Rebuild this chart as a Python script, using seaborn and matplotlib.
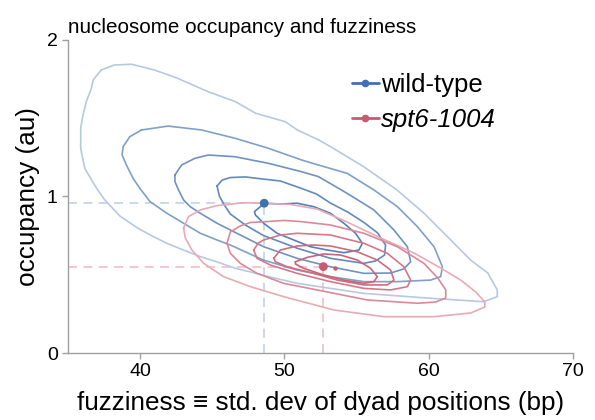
import numpy as np
import pandas as pd
import matplotlib
matplotlib.use("Agg")
import matplotlib.pyplot as plt
from matplotlib.lines import Line2D
import seaborn as sns

# density contour outlines, outermost level first
wt_lv1_x = [37.3, 38.2, 39.4, 41.0, 42.6, 44.7, 46.6, 48.0, 50.05, 50.9, 52.4, 53.2, 55.5, 57.8, 59.65,
            61.3, 62.9, 64.1, 64.75, 64.75, 63.8, 60.1, 55.5, 52.4, 50.9, 48.9, 47.6, 46.6, 45.3, 44.2,
            43.0, 41.85, 40.7, 39.8, 38.6, 37.55, 37.0, 36.16, 35.88, 35.88, 36.04, 36.27, 36.62, 36.74]
wt_lv1_y = [1.808, 1.84, 1.845, 1.808, 1.755, 1.670, 1.606, 1.532, 1.478, 1.425, 1.36, 1.318, 1.190, 1.042, 0.895,
            0.743, 0.594, 0.511, 0.403, 0.36, 0.328, 0.35, 0.381, 0.424, 0.445, 0.488, 0.519, 0.541, 0.583, 0.615,
            0.658, 0.701, 0.754, 0.80, 0.875, 0.978, 1.05, 1.18, 1.308, 1.436, 1.521, 1.606, 1.691, 1.744]

wt_lv2_x = [40.09, 41.94, 44.26, 46.58, 48.89, 51.20, 52.36, 54.35, 56.20, 57.83, 59.22, 60.37, 60.95, 60.83,
            60.14, 57.83, 55.51, 53.19, 50.88, 48.54, 46.25, 45.33, 44.17, 43.01, 41.85, 40.69, 39.98, 39.51,
            39.05, 38.75, 38.82, 39.28]
wt_lv2_y = [1.425, 1.450, 1.425, 1.372, 1.308, 1.233, 1.201, 1.148, 1.042, 0.935, 0.807, 0.679, 0.551, 0.488,
            0.466, 0.456, 0.456, 0.488, 0.530, 0.594, 0.690, 0.722, 0.765, 0.829, 0.893, 0.967, 1.052, 1.116,
            1.201, 1.265, 1.318, 1.382]

wt_lv3_x = [42.41, 42.87, 43.80, 44.72, 46.58, 48.89, 51.20, 52.36, 54.35, 56.20, 57.59, 58.52, 58.75, 58.26,
            57.36, 55.51, 53.19, 50.88, 48.56, 46.25, 45.33, 44.17, 43.47, 43.01, 42.66, 42.41]
wt_lv3_y = [1.137, 1.201, 1.244, 1.265, 1.254, 1.212, 1.158, 1.127, 1.020, 0.914, 0.786, 0.679, 0.583, 0.537,
            0.511, 0.509, 0.551, 0.605, 0.679, 0.786, 0.829, 0.893, 0.935, 0.978, 1.042, 1.095]

wt_lv4_x = [45.33, 45.69, 46.25, 47.29, 48.47, 49.72, 51.11, 52.22, 53.19, 54.38, 55.56, 56.46, 57.01, 56.94,
            56.32, 55.49, 53.19, 50.90, 48.54, 47.29, 46.25, 45.83, 45.49]
wt_lv4_y = [1.067, 1.105, 1.121, 1.125, 1.112, 1.099, 1.054, 1.016, 0.958, 0.901, 0.831, 0.767, 0.690, 0.626,
            0.588, 0.573, 0.605, 0.669, 0.751, 0.818, 0.888, 0.946, 1.003]

wt_lv5_x = [48.56, 49.72, 50.88, 52.03, 53.19, 54.12, 54.93, 55.40, 55.16, 54.12, 52.97, 51.81, 50.65, 49.49,
            48.56, 47.99, 47.92, 48.33]
wt_lv5_y = [0.957, 0.952, 0.957, 0.935, 0.893, 0.829, 0.765, 0.701, 0.658, 0.641, 0.658, 0.679, 0.722, 0.765,
            0.829, 0.882, 0.903, 0.935]

mut_lv1_x = [43.01, 43.35, 44.17, 45.33, 47.17, 48.56, 50.42, 52.27, 54.35, 56.67, 58.98, 60.83, 62.22, 63.26,
             63.89, 63.89, 62.92, 60.37, 56.90, 53.42, 49.95, 47.64, 45.78, 44.40, 43.59, 43.13]
mut_lv1_y = [0.799, 0.871, 0.914, 0.942, 0.960, 0.957, 0.949, 0.920, 0.837, 0.735, 0.639, 0.543, 0.466, 0.390,
             0.326, 0.294, 0.256, 0.232, 0.232, 0.275, 0.360, 0.424, 0.488, 0.573, 0.658, 0.735]

mut_lv2_x = [46.02, 46.25, 46.94, 47.64, 48.80, 49.95, 51.11, 53.19, 55.51, 57.83, 59.67, 60.63, 61.18, 61.18,
             60.49, 59.22, 55.74, 52.27, 49.95, 48.10, 46.94, 46.25]
mut_lv2_y = [0.701, 0.773, 0.812, 0.834, 0.840, 0.847, 0.840, 0.818, 0.765, 0.679, 0.573, 0.479, 0.403, 0.351,
             0.326, 0.318, 0.339, 0.403, 0.445, 0.509, 0.573, 0.637]

mut_lv3_x = [47.87, 48.19, 48.56, 49.72, 50.88, 53.19, 55.51, 57.13, 58.28, 58.75, 58.52, 57.36, 55.51, 53.19,
             50.88, 49.03, 48.10]
mut_lv3_y = [0.658, 0.703, 0.722, 0.754, 0.765, 0.754, 0.701, 0.637, 0.551, 0.466, 0.424, 0.403, 0.413, 0.456,
             0.509, 0.562, 0.605]

mut_lv4_x = [49.26, 49.72, 50.88, 52.03, 53.19, 55.05, 56.44, 57.36, 57.59, 57.13, 55.51, 53.66, 52.03, 50.19, 49.38]
mut_lv4_y = [0.605, 0.658, 0.684, 0.690, 0.684, 0.647, 0.594, 0.530, 0.466, 0.435, 0.435, 0.466, 0.509, 0.551, 0.583]

mut_lv5_x = [50.76, 51.58, 52.73, 53.89, 55.05, 55.97, 56.44, 56.20, 55.51, 54.12, 52.73, 51.34, 50.76]
mut_lv5_y = [0.583, 0.611, 0.633, 0.626, 0.594, 0.541, 0.488, 0.456, 0.445, 0.466, 0.498, 0.541, 0.569]

# density peak of each strain
wt_peak = (48.6, 0.957)
mut_peak = (52.7, 0.552)
mut_mode = (53.5, 0.545)

strains = ["wild-type", "spt6-1004"]
wt_colors = ["#b6c9e1", "#7fa0c9", "#6e93c2", "#6389bd", "#5681b8"]
mut_colors = ["#e9aab5", "#dc8898", "#d57789", "#d06c7f", "#cc6376"]
peak_colors = ["#3f71ad", "#c95a6f"]
guide_colors = ["#c6d5ea", "#f5c3cb"]

wt_levels = [(wt_lv1_x, wt_lv1_y), (wt_lv2_x, wt_lv2_y), (wt_lv3_x, wt_lv3_y),
             (wt_lv4_x, wt_lv4_y), (wt_lv5_x, wt_lv5_y)]
mut_levels = [(mut_lv1_x, mut_lv1_y), (mut_lv2_x, mut_lv2_y), (mut_lv3_x, mut_lv3_y),
              (mut_lv4_x, mut_lv4_y), (mut_lv5_x, mut_lv5_y)]

sns.set_theme(style="ticks")
plt.rcParams["font.family"] = ["Liberation Sans", "DejaVu Sans"]
plt.rcParams["text.color"] = "black"
plt.rcParams["axes.labelcolor"] = "black"

fig = plt.figure(figsize=(5.95, 4.2), dpi=100)
ax = fig.add_axes([0.1143, 0.1595, 0.8487, 0.7453])


def draw_contour(xs, ys, color, lw=1.2):
    df = pd.DataFrame({"x": list(xs) + [xs[0]], "y": list(ys) + [ys[0]]})
    sns.lineplot(data=df, x="x", y="y", sort=False, estimator=None, color=color,
                 lw=lw, ax=ax, legend=False)


# guide lines from each peak to the axes
for (px, py), gc in zip([wt_peak, mut_peak], guide_colors):
    ax.plot([35, px], [py, py], ls=(0, (5, 3.5)), color=gc, lw=1.3, zorder=1)
    ax.plot([px, px], [0, py], ls=(0, (5, 3.5)), color=gc, lw=1.3, zorder=1)

for (xs, ys), c in zip(wt_levels, wt_colors):
    draw_contour(xs, ys, c)
for (xs, ys), c in zip(mut_levels, mut_colors):
    draw_contour(xs, ys, c)

peaks = pd.DataFrame({"x": [wt_peak[0], mut_peak[0]], "y": [wt_peak[1], mut_peak[1]],
                      "strain": strains})
sns.scatterplot(data=peaks, x="x", y="y", hue="strain", palette=peak_colors, s=40,
                edgecolor="none", legend=False, ax=ax, zorder=5)
ax.plot([mut_mode[0]], [mut_mode[1]], "o", ms=2.2, color=peak_colors[1], zorder=5)

ax.set_xlim(35, 70)
ax.set_ylim(0, 2)
ax.set_xticks([40, 50, 60, 70])
ax.set_yticks([0, 1, 2])
sns.despine(ax=ax)
for sp in ["left", "bottom"]:
    ax.spines[sp].set_color("#a0a0a0")
    ax.spines[sp].set_linewidth(1.0)
ax.tick_params(colors="#a0a0a0", labelcolor="black", labelsize=14, length=4.3, width=1.0, pad=3)

ax.set_xlabel("fuzziness \u2261 std. dev of dyad positions (bp)", fontsize=18.8, labelpad=8)
ax.set_ylabel("occupancy (au)", fontsize=18.8, labelpad=5)
ax.set_title("nucleosome occupancy and fuzziness", loc="left", fontsize=14.9, pad=5)

handles = [Line2D([0], [0], color=c, lw=2, marker="o", ms=4.5) for c in peak_colors]
leg = ax.legend(handles, ["wild-type", "spt6-1004"], loc="upper left",
                bbox_to_anchor=(0.536, 0.936), frameon=False, fontsize=18.5,
                handlelength=1.05, handletextpad=0.1, labelspacing=0.42, borderpad=0)
leg.get_texts()[1].set_style("italic")

fig.savefig("out.png", dpi=100)
